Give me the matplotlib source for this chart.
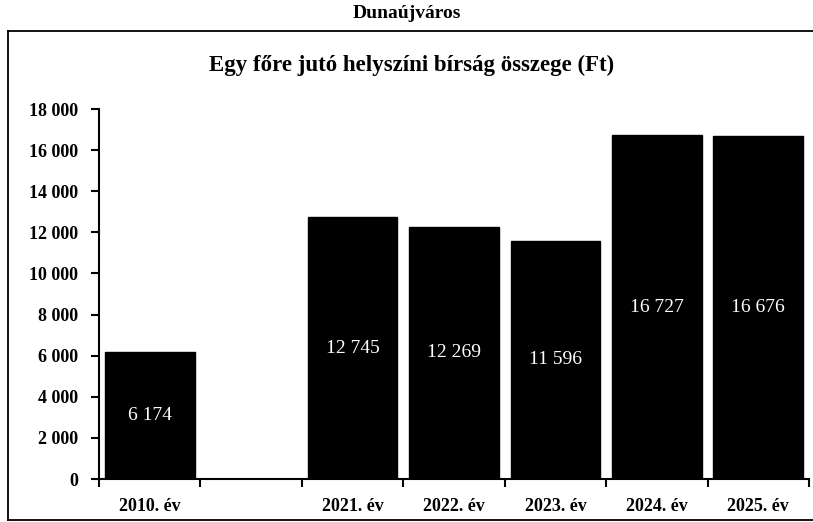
import matplotlib.pyplot as plt
from matplotlib.ticker import FuncFormatter

# Egy főre jutó helyszíni bírság (Ft), Dunaújváros
categories = ["2010. év", "", "2021. év", "2022. év", "2023. év", "2024. év", "2025. év"]
values = [6174, None, 12745, 12269, 11596, 16727, 16676]
label_texts = ["6 174", "", "12 745", "12 269", "11 596", "16 727", "16 676"]

plt.rcParams["font.family"] = ["Liberation Serif", "DejaVu Serif"]

fig = plt.figure(figsize=(8.13, 5.22), dpi=100)
fig.patch.set_facecolor("white")

# keret a diagram körül (jobb oldalon nincs vonal)
W, H = 813, 522
box_x0, box_x1 = 8 / W, 1.0
box_y0, box_y1 = 1 - 520 / H, 1 - 31 / H
for xx, yy in [([box_x0, box_x1], [box_y1, box_y1]),
               ([box_x0, box_x1], [box_y0, box_y0]),
               ([box_x0, box_x0], [box_y0, box_y1])]:
    fig.add_artist(plt.Line2D(xx, yy, color="black", lw=1.3, transform=fig.transFigure))

fig.text(407 / W, 1 - 13 / H, "Dunaújváros", ha="center", va="center",
         fontsize=14, fontweight="bold")
fig.text(412 / W, 1 - 65 / H, "Egy főre jutó helyszíni bírság összege (Ft)",
         ha="center", va="center", fontsize=16.5, fontweight="bold")

ax = fig.add_axes([99 / W, 1 - 479 / H, 710 / W, 370 / H])

xs = list(range(len(categories)))
for i, v in enumerate(values):
    if v is None:
        continue
    ax.bar(i, v, width=0.885, color="black", edgecolor="black", zorder=2)
    ax.text(i, v / 2, label_texts[i], ha="center", va="center",
            color="white", fontsize=14)

ax.set_xlim(-0.5, len(categories) - 0.5)
ax.set_ylim(0, 18000)
ax.set_yticks(range(0, 18001, 2000))
ax.yaxis.set_major_formatter(FuncFormatter(lambda y, p: f"{int(y):,}".replace(",", " ")))

# tick jelek a kategóriák határain, feliratok középen
ax.set_xticks([i - 0.5 for i in range(len(categories) + 1)])
ax.set_xticklabels([])
ax.set_xticks(xs, minor=True)
ax.set_xticklabels(categories, minor=True, fontsize=13, fontweight="bold")
ax.tick_params(axis="x", which="minor", length=0, pad=14)
ax.tick_params(axis="x", which="major", length=6, width=1.5, direction="out")
ax.tick_params(axis="y", length=6, width=1.5, direction="out", labelsize=13, pad=9)
for lab in ax.get_yticklabels():
    lab.set_fontweight("bold")

for s in ["top", "right"]:
    ax.spines[s].set_visible(False)
ax.spines["left"].set_linewidth(1.5)
ax.spines["bottom"].set_linewidth(1.5)

fig.savefig("out.png", dpi=100)
plt.close(fig)
